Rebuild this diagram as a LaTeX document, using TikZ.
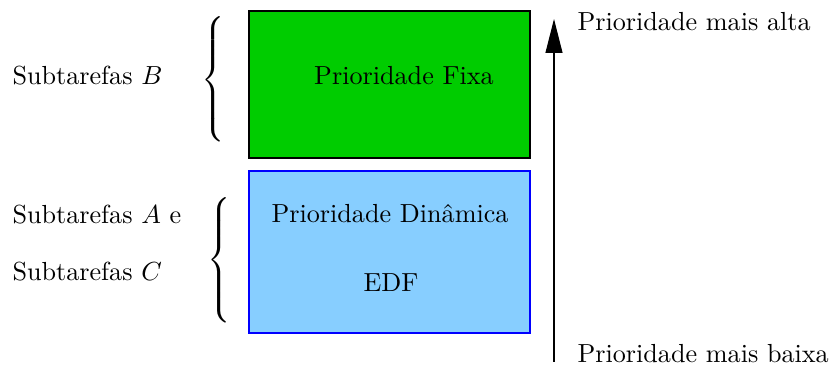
\documentclass[tikz,border=0pt]{standalone}
\usetikzlibrary{arrows.meta,positioning}
\definecolor{fixgreen}{RGB}{0,204,0}
\definecolor{edfblue}{RGB}{135,206,255}

\begin{document}
\begin{tikzpicture}[x=0.01344cm,y=0.01344cm,
    fixbox/.style={draw=black,fill=fixgreen},
    dynbox/.style={draw=blue,fill=edfblue},
    label/.style={anchor=west,inner sep=0pt}]
   \useasboundingbox (0,0) rectangle (830,365);

   \draw[fixbox] (249,207) rectangle (530,354);
   \draw[dynbox] (249,32) rectangle (530,194);

   \node (fixa) at (404,289) {Prioridade Fixa};
   \node (dyn) at (390,151) {Prioridade Din\^amica};
   \node (edf) at (391,82) {EDF};

   \node[label] (subB) at (12,289) {Subtarefas $B$};
   \node[label] (subA) at (12,150) {Subtarefas $A$ e};
   \node[label] (subC) at (12,93) {Subtarefas $C$};

   \node[inner sep=0pt] (braceB) at (215,283) {$\left\{\vrule height 23.3pt depth 23.3pt width 0pt\right.$};
   \node[inner sep=0pt] (braceAC) at (221,102) {$\left\{\vrule height 23.8pt depth 23.8pt width 0pt\right.$};

   \coordinate (low) at (554,3);
   \coordinate (high) at (554,346);
   \draw[-{Triangle[length=13pt,width=6.5pt]}] (low) -- (high);

   \node[label] (alta) at (577,343) {Prioridade mais alta};
   \node[label] (baixa) at (577,11) {Prioridade mais baixa};
\end{tikzpicture}
\end{document}
